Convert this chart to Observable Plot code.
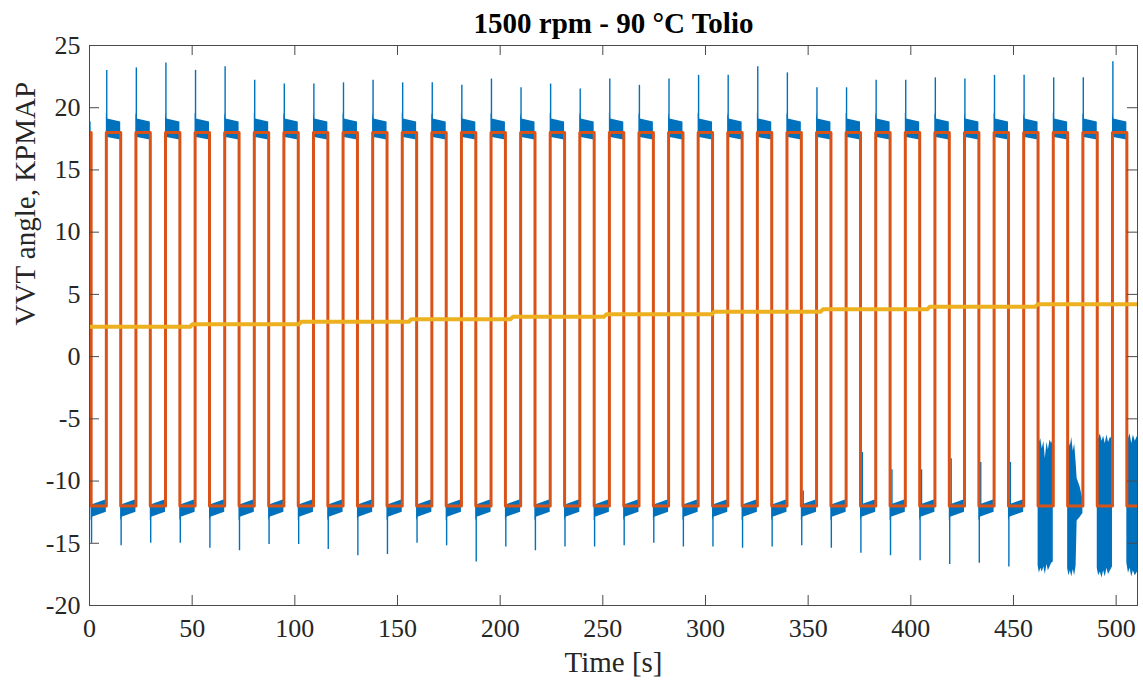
<!DOCTYPE html>
<html>
<head>
<meta charset="utf-8">
<script src="https://cdn.jsdelivr.net/npm/d3@7"></script>
<script src="https://cdn.jsdelivr.net/npm/@observablehq/plot@0.6"></script>
<style>
  html, body { margin: 0; padding: 0; background: #fff; }
</style>
</head>
<body>
<div id="chart"></div>
<script>
// ---- texts ----
const titleText = "1500 rpm - 90 °C Tolio";
const xLabel = "Time [s]";
const yLabel = "VVT angle, KPMAP";

// ---- axes ----
const xTicks = [0, 50, 100, 150, 200, 250, 300, 350, 400, 450, 500];
const yTicks = [-20, -15, -10, -5, 0, 5, 10, 15, 20, 25];
const xDomain = [0, 510.4];
const yDomain = [-20, 25];

// ---- KPMAP target (square wave) ----
const highLevel = 18;
const lowLevel = -12;
const firstFall = 0.8;
const highDuration = 7.0;
const riseTimes = [8.2, 22.61, 37.02, 51.44, 65.85, 80.26, 94.67, 109.08, 123.5, 137.91,
  152.32, 166.73, 181.14, 195.56, 209.97, 224.38, 238.79, 253.2, 267.62, 282.03,
  296.44, 310.85, 325.26, 339.68, 354.09, 368.5, 382.91, 397.32, 411.74, 426.15,
  440.56, 454.97, 469.38, 483.8, 498.21];

// ---- measured VVT angle: spikes and noise bands ----
const highPeaks = [23.0, 23.2, 23.6, 23.0, 23.3, 22.2, 21.9, 21.9, 22.0, 22.2,
  22.0, 22.0, 21.8, 22.3, 21.6, 21.9, 21.5, 22.3, 21.8, 22.3,
  22.6, 22.6, 23.3, 22.8, 21.6, 21.6, 22.2, 22.2, 22.4, 22.3,
  22.6, 22.6, 22.4, 22.4, 23.7];
// first entry: initial fall, then one per fall after each rise
const lowPeaks = [-15.0, -15.2, -15.0, -15.0, -15.4, -15.6, -15.1, -15.1, -15.5, -16.0,
  -15.9, -15.0, -15.2, -16.5, -15.3, -15.6, -15.3, -15.3, -15.2, -15.0,
  -15.3, -15.3, -15.4, -15.3, -15.2, -15.4, -15.8, -16.0, -16.4, -16.7,
  -16.6, -16.9, null, null, null, null];
// short upward strokes right after some falls (per fall index)
const lowUpSpikes = [null, null, null, null, null, null, null, null, null, null,
  null, null, null, null, null, null, null, null, null, null,
  null, null, null, -10.8, null, -7.7, -9.1, -9.1, -8.2, -8.5,
  -8.5, null, null, null, null];
// band envelopes within a phase: offsets from phase start (s), last = phase end
const bandOffsets = [0, 0.6];
const highBandTop = [19.6, 19.1, 18.85];
const highBandBottom = [17.6, 17.6, 17.4];
const lowBandTop = [-12.1, -11.9, -11.5];
const lowBandBottom = [-13.2, -12.9, -12.5];

// heavy oscillation after the last falls (envelopes)
const noise31T = [462.0, 462.6, 463.3, 464.0, 464.8, 465.5, 466.3, 467.0, 467.8, 468.6, 469.38];
const noise31Top = [-6.5, -6.9, -6.6, -7.4, -6.8, -8.2, -6.9, -7.5, -6.7, -7.0, -6.6];
const noise31Bottom = [-16.8, -17.4, -17.0, -17.3, -16.9, -17.5, -16.7, -17.2, -16.9, -16.6, -16.5];
const noise32T = [476.38, 477.0, 477.7, 478.4, 479.1, 479.8, 480.5, 481.0, 482.5, 483.8];
const noise32Top = [-6.4, -6.8, -7.2, -6.5, -7.6, -7.0, -8.5, -9.8, -10.5, -11.5];
const noise32Bottom = [-17.0, -17.6, -17.2, -17.7, -17.1, -17.6, -16.8, -13.2, -12.9, -12.6];
const noise33T = [490.8, 491.5, 492.3, 493.1, 493.9, 494.7, 495.5, 496.3, 497.2, 498.21];
const noise33Top = [-6.3, -6.6, -6.2, -6.8, -6.4, -7.0, -6.3, -6.9, -6.5, -6.6];
const noise33Bottom = [-17.0, -17.6, -17.3, -17.8, -17.2, -17.7, -17.0, -17.5, -17.2, -16.9];
const noise34T = [505.21, 506.0, 506.8, 507.6, 508.4, 509.3, 510.4];
const noise34Top = [-6.1, -6.6, -6.2, -7.0, -6.3, -6.8, -6.4];
const noise34Bottom = [-16.6, -17.4, -17.0, -17.7, -17.2, -17.6, -17.3];

// ---- yellow staircase ----
const stepTimes = [49, 102, 155.5, 205, 250.5, 303, 356, 408, 460.5];
const stepLevels = [2.4, 2.6, 2.8, 3.0, 3.2, 3.4, 3.6, 3.8, 4.0, 4.2];

// ---- colours ----
const blue = "#0072BD", orange = "#D95319", yellow = "#EDB120";

// ---- build tables ----
const xEnd = xDomain[1];
const fallTimes = riseTimes.map(r => r + highDuration);
const lowStarts = [firstFall, ...fallTimes];
const lowEnds = [...riseTimes, xEnd];

const noisy = {
  32: [noise31T, noise31Top, noise31Bottom],
  33: [noise32T, noise32Top, noise32Bottom],
  34: [noise33T, noise33Top, noise33Bottom],
  35: [noise34T, noise34Top, noise34Bottom]
};

const bands = [];
function pushBand(p, s, e, top, bot) {
  const times = [...bandOffsets.map(o => s + o), e];
  times.forEach((t, j) => bands.push({p, t: Math.min(t, e), lo: bot[j], hi: top[j]}));
}

bands.push({p: "hi", t: 0, lo: highBandBottom[2], hi: highBandTop[2]});
bands.push({p: "hi", t: firstFall, lo: highBandBottom[2], hi: highBandTop[2]});
riseTimes.forEach((r, k) => pushBand("h" + k, r, fallTimes[k], highBandTop, highBandBottom));
lowStarts.forEach((s, i) => {
  if (noisy[i]) {
    const [T, top, bot] = noisy[i];
    T.forEach((t, j) => bands.push({p: "l" + i, t, lo: bot[j], hi: top[j]}));
  } else {
    pushBand("l" + i, s, lowEnds[i], lowBandTop, lowBandBottom);
  }
});

const spikeLag = 0.2;
const upSpikes = riseTimes.map((r, k) => ({t: r + spikeLag, y1: highLevel, y2: highPeaks[k]}));
const downSpikes = lowStarts.map((s, i) => ({t: s + spikeLag, y1: lowLevel, y2: lowPeaks[i]}))
  .filter(d => d.y2 != null);
const riseStrokes = fallTimes.map((f, k) => ({t: f + 0.9, y1: lowLevel, y2: lowUpSpikes[k]}))
  .filter(d => d.y2 != null);

const target = [{t: 0, y: highLevel}, {t: firstFall, y: lowLevel}];
riseTimes.forEach((r, k) => {
  target.push({t: r, y: highLevel});
  target.push({t: fallTimes[k], y: lowLevel});
});
target.push({t: xEnd, y: lowLevel});

const stairs = [{t: 0, y: stepLevels[0]}];
stepTimes.forEach((t, i) => {
  stairs.push({t, y: stepLevels[i]});
  stairs.push({t: t + 1.2, y: stepLevels[i + 1]});
});
stairs.push({t: xEnd, y: stepLevels[stepLevels.length - 1]});

const W = 1143, H = 680;
const mL = 89, mR = 6, mT = 45, mB = 75;
const frameW = W - mL - mR, frameH = H - mT - mB;
const tickLen = 10;
const axisColor = "#4a4a4a";
const textColor = "#262626";

const chart = Plot.plot({
  width: W, height: H,
  marginLeft: mL, marginRight: mR, marginTop: mT, marginBottom: mB,
  x: {domain: xDomain, axis: null},
  y: {domain: yDomain, axis: null},
  style: {fontFamily: "'Liberation Serif', 'Times New Roman', serif", fontSize: "26px", color: textColor, background: "#fff"},
  marks: [
    Plot.areaY(bands, {x: "t", y1: "lo", y2: "hi", z: "p", fill: blue, clip: true}),
    Plot.ruleX(upSpikes, {x: "t", y1: "y1", y2: "y2", stroke: blue, strokeWidth: 1.4}),
    Plot.ruleX(downSpikes, {x: "t", y1: "y1", y2: "y2", stroke: blue, strokeWidth: 1.4}),
    Plot.ruleX(riseStrokes, {x: "t", y1: "y1", y2: "y2", stroke: blue, strokeWidth: 1.4}),
    Plot.line(target, {x: "t", y: "y", curve: "step-after", stroke: orange, strokeWidth: 3, clip: true}),
    Plot.line(stairs, {x: "t", y: "y", stroke: yellow, strokeWidth: 4, clip: true}),
    // inward ticks on all four sides
    Plot.tickX(xTicks, {x: d => d, insetTop: frameH - tickLen, stroke: axisColor}),
    Plot.tickX(xTicks, {x: d => d, insetBottom: frameH - tickLen, stroke: axisColor}),
    Plot.tickY(yTicks, {y: d => d, insetRight: frameW - tickLen, stroke: axisColor}),
    Plot.tickY(yTicks, {y: d => d, insetLeft: frameW - tickLen, stroke: axisColor}),
    Plot.frame({stroke: axisColor, strokeWidth: 1}),
    // tick labels
    Plot.text(xTicks, {x: d => d, text: d => String(d), frameAnchor: "bottom", lineAnchor: "top", dy: 13, fontSize: 26, fill: textColor}),
    Plot.text(yTicks, {y: d => d, text: d => String(d), frameAnchor: "left", textAnchor: "end", dx: -9, fontSize: 26, fill: textColor}),
    // axis labels and title
    Plot.text([xLabel], {frameAnchor: "bottom", lineAnchor: "middle", dy: 57, fontSize: 29, fill: textColor}),
    Plot.text([yLabel], {frameAnchor: "left", rotate: -90, dx: -64, fontSize: 29, fill: textColor}),
    Plot.text([titleText], {frameAnchor: "top", lineAnchor: "middle", dy: -22, fontSize: 29, fontWeight: "bold", fill: "#000"})
  ]
});
document.getElementById("chart").appendChild(chart);
</script>
</body>
</html>
